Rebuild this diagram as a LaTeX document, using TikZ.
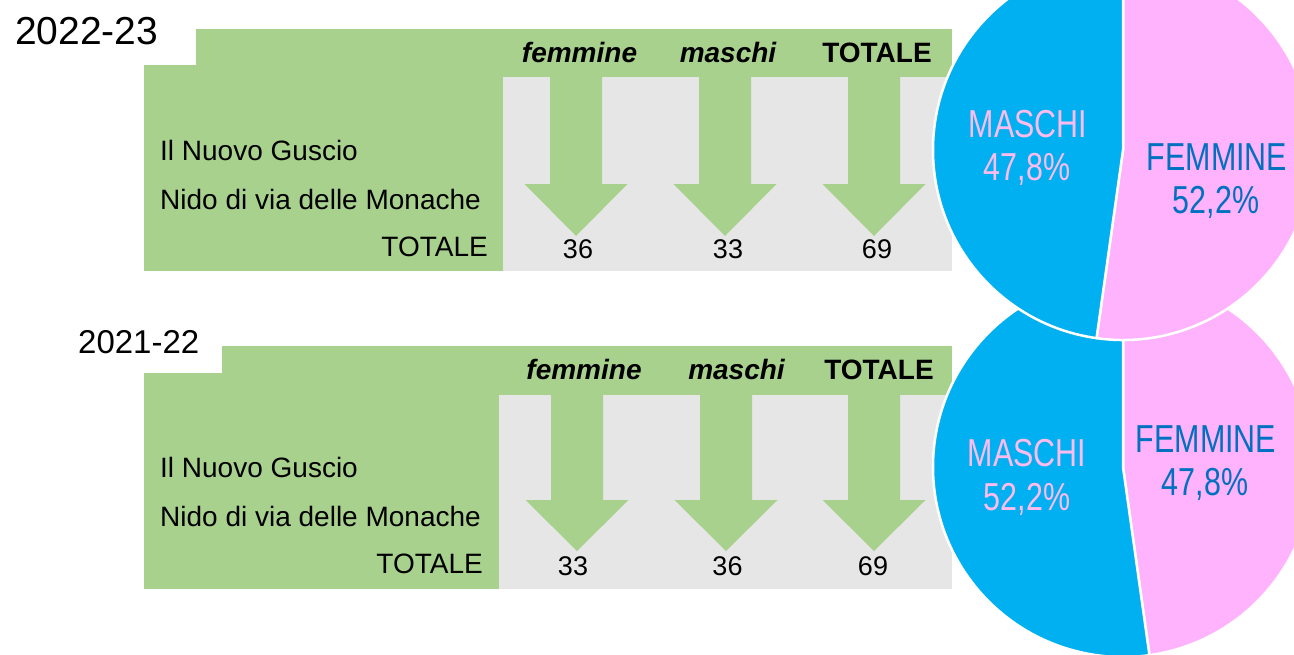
\documentclass[tikz,border=0pt]{standalone}
\usepackage{fontspec}
\setmainfont{Liberation Sans}
\newfontfamily\narrowfont[FakeStretch=0.78]{Liberation Sans}
\usepackage{xcolor}
\usepackage{tikz}
\definecolor{tabgreen}{HTML}{A9D18E}
\definecolor{tabgray}{HTML}{E6E6E6}
\definecolor{pieblue}{HTML}{00B0F0}
\definecolor{piepink}{HTML}{FFB3FC}
\definecolor{lblpink}{HTML}{FFBBEE}
\definecolor{lblblue}{HTML}{0070C0}

\begin{document}
\begin{tikzpicture}[x=1pt, y=-1pt,
    block/.style={rectangle, inner sep=0pt, draw=none},
    rowlab/.style={inner sep=0pt, font=\fontsize{28}{30}\selectfont},
    colhead/.style={inner sep=0pt, anchor=base, font=\fontsize{28}{30}\selectfont\bfseries},
    numval/.style={inner sep=0pt, anchor=base, font=\fontsize{27}{30}\selectfont},
    pielab/.style={inner sep=0pt, anchor=base, align=center, font=\narrowfont\fontsize{39}{43}\selectfont},
    slice/.style={draw=white, line width=2.5pt, line join=round}]

    \useasboundingbox (0,0) rectangle (1294,654);

    % 2022-23
    \node[block,
          fill = tabgreen,
          minimum width = 756pt,
          minimum height = 48pt
          ] (head1) at (574,53) {};
    \node[block,
          fill = tabgreen,
          minimum width = 359pt,
          minimum height = 206pt
          ] (rows1) at (323.5,168) {};
    \node[block,
          fill = tabgray,
          minimum width = 449pt,
          minimum height = 194pt
          ] (body1) at (727.5,174) {};
    \foreach \ax in {576,725,874}
        \fill[tabgreen] (\ax-26,77) -- (\ax+26,77) -- (\ax+26,184) -- (\ax+51.5,184)
            -- (\ax,236) -- (\ax-51.5,184) -- (\ax-26,184) -- cycle;

    \node[inner sep=0pt, anchor=base west, font=\fontsize{39}{42}\selectfont] (year1) at (15,44) {2022-23};
    \node[colhead] (fem1) at (579.5,62) {\itshape femmine};
    \node[colhead] (mas1) at (728,62) {\itshape maschi};
    \node[colhead] (tot1) at (877,62) {TOTALE};
    \node[rowlab, anchor=base west] (guscio1) at (160,160) {Il Nuovo Guscio};
    \node[rowlab, anchor=base west] (monache1) at (160,209) {Nido di via delle Monache};
    \node[rowlab, anchor=base east] (totrow1) at (488,256) {TOTALE};
    \node[numval] (nfem1) at (578,258) {36};
    \node[numval] (nmas1) at (728,258) {33};
    \node[numval] (ntot1) at (877,258) {69};

    % 2021-22
    \node[block,
          fill = tabgreen,
          minimum width = 730pt,
          minimum height = 49pt
          ] (head2) at (587,370.5) {};
    \node[block,
          fill = tabgreen,
          minimum width = 355pt,
          minimum height = 216pt
          ] (rows2) at (321.5,481) {};
    \node[block,
          fill = tabgray,
          minimum width = 453pt,
          minimum height = 194pt
          ] (body2) at (725.5,492) {};
    \foreach \ax in {577,726,874}
        \fill[tabgreen] (\ax-26,395) -- (\ax+26,395) -- (\ax+26,500) -- (\ax+51.5,500)
            -- (\ax,551) -- (\ax-51.5,500) -- (\ax-26,500) -- cycle;

    \node[inner sep=0pt, anchor=base west, font=\fontsize{33}{36}\selectfont] (year2) at (78,353) {2021-22};
    \node[colhead] (fem2) at (584,379) {\itshape femmine};
    \node[colhead] (mas2) at (736.5,379) {\itshape maschi};
    \node[colhead] (tot2) at (879,379) {TOTALE};
    \node[rowlab, anchor=base west] (guscio2) at (160,477) {Il Nuovo Guscio};
    \node[rowlab, anchor=base west] (monache2) at (160,526) {Nido di via delle Monache};
    \node[rowlab, anchor=base east] (totrow2) at (483,573) {TOTALE};
    \node[numval] (nfem2) at (573,575) {33};
    \node[numval] (nmas2) at (727.5,575) {36};
    \node[numval] (ntot2) at (873,575) {69};

    % pies, lower one first
    \coordinate (pie2) at (1123,467);
    \fill[slice, fill=piepink] (pie2) -- ++(-278:190) arc[start angle=-278, end angle=-450, radius=190] -- cycle;
    \fill[slice, fill=pieblue] (pie2) -- ++(-90:190) arc[start angle=-90, end angle=-278, radius=190] -- cycle;
    \node[pielab, text=lblpink] (mlab2) at (1027,466) {MASCHI};
    \node[pielab, text=lblpink] (mval2) at (1027,510) {52,2\%};
    \node[pielab, text=lblblue] (flab2) at (1206,452) {FEMMINE};
    \node[pielab, text=lblblue] (fval2) at (1205,495) {47,8\%};

    \coordinate (pie1) at (1123,150);
    \fill[slice, fill=piepink] (pie1) -- ++(-262:190) arc[start angle=-262, end angle=-450, radius=190] -- cycle;
    \fill[slice, fill=pieblue] (pie1) -- ++(-90:190) arc[start angle=-90, end angle=-262, radius=190] -- cycle;
    \node[pielab, text=lblpink] (mlab1) at (1028,137) {MASCHI};
    \node[pielab, text=lblpink] (mval1) at (1027,180) {47,8\%};
    \node[pielab, text=lblblue] (flab1) at (1217,170) {FEMMINE};
    \node[pielab, text=lblblue] (fval1) at (1216,213) {52,2\%};

\end{tikzpicture}
\end{document}
